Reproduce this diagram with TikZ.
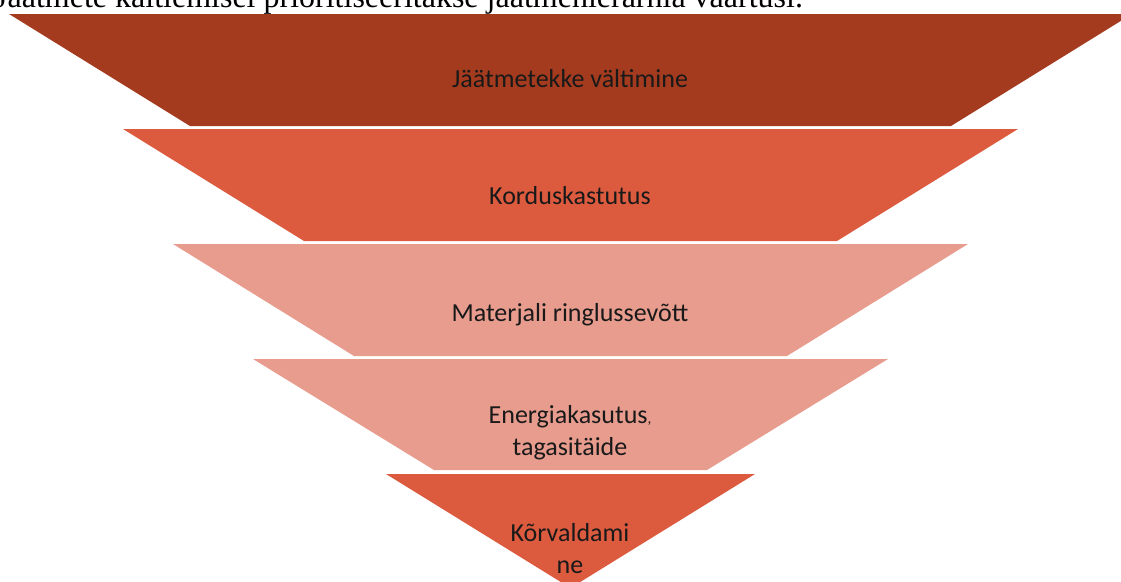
\documentclass[tikz,border=0pt]{standalone}
\usepackage{fontspec}
\setmainfont{Liberation Serif}
\newfontfamily\bandfont{Carlito}
\definecolor{levelone}{RGB}{164,59,30}
\definecolor{leveltwo}{RGB}{220,91,63}
\definecolor{levellow}{RGB}{231,156,142}
\tikzset{
	bandlabel/.style={font=\bandfont\fontsize{26}{31.5}\selectfont,text=black!90,align=center,inner sep=0pt},
}
\begin{document}
\begin{tikzpicture}[x=1pt,y=-1pt]
	\useasboundingbox (0,0) rectangle (1121,581);
	\clip (0,0) rectangle (1121,581);
	
	% caption line, only its lower part shows
	\node[anchor=base west,inner sep=0pt,font=\fontsize{32}{36}\selectfont] (caption) at (-5,7.5) {Jäätmete käitlemisel prioritiseeritakse jäätmehierarhia väärtusi.};
	
	% the five levels
	\fill[levelone] (9,14) -- (1132,14) -- (951,126) -- (190,126) -- cycle;
	\fill[leveltwo] (123,129) -- (1018,129) -- (837,241) -- (304,241) -- cycle;
	\fill[levellow] (173,244) -- (968,244) -- (787,356) -- (354,356) -- cycle;
	\fill[levellow] (253,359) -- (888,359) -- (707,470) -- (434,470) -- cycle;
	\fill[leveltwo] (386,474) -- (755,474) -- (570.5,588) -- cycle;
	
	\node[bandlabel,anchor=base] (avoid) at (570,87) {Jäätmetekke vältimine};
	\node[bandlabel,anchor=base] (reuse) at (570,204) {Korduskastutus};
	\node[bandlabel,anchor=base] (recycle) at (570,321) {Materjali ringlussevõtt};
	\node[bandlabel,anchor=base] (recover) at (570,455) {Energiakasutus{\fontsize{15}{16}\selectfont,}\\tagasitäide};
	\node[bandlabel,anchor=base] (dispose) at (570,573) {Kõrvaldami\\ne};
	
\end{tikzpicture}
\end{document}
